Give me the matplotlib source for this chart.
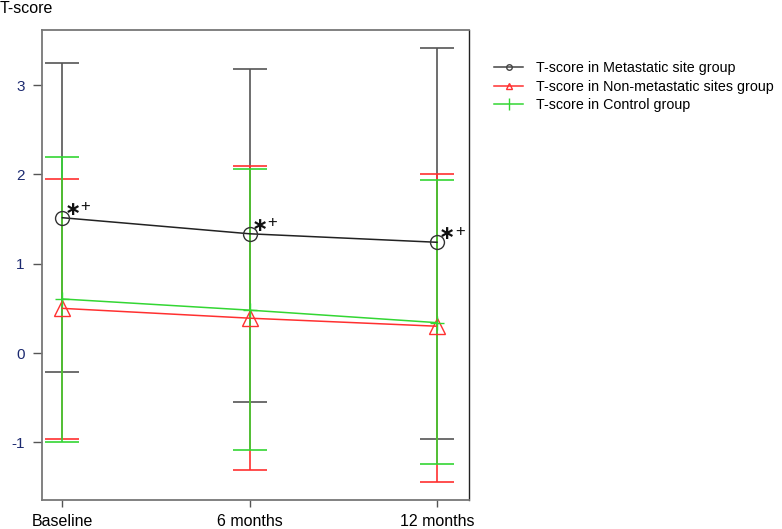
import matplotlib
matplotlib.use("Agg")
import matplotlib.pyplot as plt

plt.rcParams["font.family"] = ["Liberation Sans", "DejaVu Sans"]

# time points
timepoints = ["Baseline", "6 months", "12 months"]

# mean T-score and error bar ends per group
meta_mean = [1.515, 1.335, 1.24]
meta_upper = [3.25, 3.18, 3.42]
meta_lower = [-0.21, -0.545, -0.96]

nonmeta_mean = [0.50, 0.39, 0.30]
nonmeta_upper = [1.95, 2.09, 2.01]
nonmeta_lower = [-0.968, -1.31, -1.44]

control_mean = [0.605, 0.48, 0.34]
control_upper = [2.20, 2.06, 1.94]
control_lower = [-0.998, -1.09, -1.24]

legend_labels = ["T-score in Metastatic site group",
                 "T-score in Non-metastatic sites group",
                 "T-score in Control group"]

x = list(range(len(timepoints)))

fig = plt.figure(figsize=(7.82, 5.29), dpi=100)
ax = fig.add_axes([0.0537, 0.0548, 0.546, 0.8885])

black = "#555555"
red = "#ff3030"
green = "#33d633"


def errs(mean, lo, hi):
    return [[m - l for m, l in zip(mean, lo)], [h - m for m, h in zip(mean, hi)]]


# vertical bars: black first, then red, green on top
ax.errorbar(x, meta_mean, yerr=errs(meta_mean, meta_lower, meta_upper),
            fmt="none", ecolor=black, elinewidth=1.2, capsize=12, capthick=1.2, zorder=2)
ax.errorbar(x, nonmeta_mean, yerr=errs(nonmeta_mean, nonmeta_lower, nonmeta_upper),
            fmt="none", ecolor=red, elinewidth=1.2, capsize=12, capthick=1.2, zorder=3)
ax.errorbar(x, control_mean, yerr=errs(control_mean, control_lower, control_upper),
            fmt="none", ecolor=green, elinewidth=1.2, capsize=12, capthick=1.2, zorder=4)

# mean lines
ax.plot(x, meta_mean, color="#222222", lw=1.1, marker="o", ms=10,
        mfc="none", mec="#333333", mew=1.0, zorder=5)
ax.plot(x, nonmeta_mean, color=red, lw=1.1, marker="^", ms=12,
        mfc="none", mec=red, mew=1.0, zorder=5)
ax.plot(x, control_mean, color=green, lw=1.1, marker="+", ms=10,
        mec=green, zorder=5)

# significance marks next to the metastatic group
for xi, yi in zip(x, meta_mean):
    ax.annotate("\u2217", (xi, yi), xytext=(7.5, 6), textcoords="offset points",
                fontsize=14, fontweight="bold", family="DejaVu Sans",
                ha="center", va="center", color="#111111")
    ax.annotate("+", (xi, yi), xytext=(16.5, 8), textcoords="offset points",
                fontsize=12, ha="center", va="center", color="#111111")

ax.set_xlim(-0.109, 2.171)
ax.set_ylim(-1.646, 3.617)
ax.set_xticks(x)
ax.set_xticklabels(timepoints, fontsize=11.5)
ax.set_yticks([-1, 0, 1, 2, 3])
ax.set_yticklabels(["-1", "0", "1", "2", "3"], fontsize=11, color="#1c2a70")
ax.tick_params(axis="y", length=6.5, width=1, color="#555555", pad=6)
ax.tick_params(axis="x", length=5, width=1, color="#555555", pad=5)

for side in ["left", "top", "bottom"]:
    ax.spines[side].set_color("#777777")
    ax.spines[side].set_linewidth(1.3)
ax.spines["right"].set_color("#222222")
ax.spines["right"].set_linewidth(1.0)

fig.text(0.0, 0.976, "T-score", fontsize=11.5, va="baseline", ha="left")

# legend handles with small markers
h1, = ax.plot([], [], color="#444444", lw=1.1, marker="o", ms=4, mfc="none")
h2, = ax.plot([], [], color=red, lw=1.1, marker="^", ms=5, mfc="none")
h3, = ax.plot([], [], color=green, lw=1.1, marker="|", ms=8)
fig.legend([h1, h2, h3], legend_labels, loc="upper left",
           bbox_to_anchor=(0.6245, 0.895), frameon=False, fontsize=10.3,
           handlelength=2.05, handletextpad=0.9, labelspacing=0.3, borderaxespad=0)

fig.savefig("out.png", dpi=100)
